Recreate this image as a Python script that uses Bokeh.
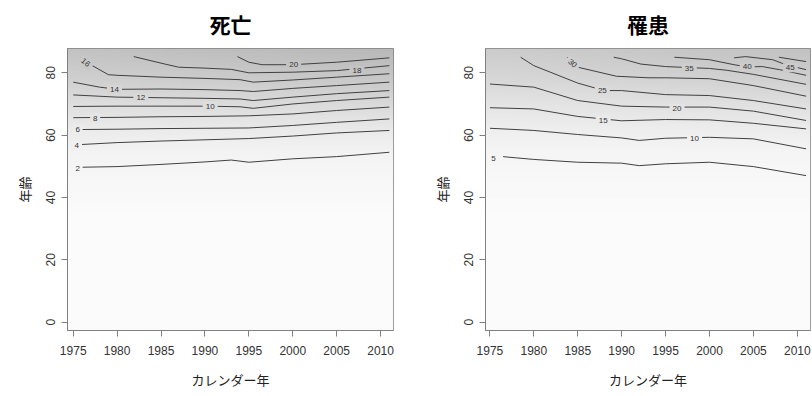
import numpy as np
from bokeh.plotting import figure
from bokeh.layouts import row
from bokeh.models import Range1d, FixedTicker, ColumnDataSource
from bokeh.core.properties import value
from bokeh.embed import file_html
from bokeh.resources import INLINE

# ---------------- data: 死亡 (death) contour lines ----------------
D_LEVELS = [2, 4, 6, 8, 10, 12, 14, 16, 18, 20]
D2_YEAR = [1976, 1980, 1985, 1990, 1993, 1995, 2000, 2005, 2011]
D2_AGE = [49.7, 49.9, 50.6, 51.4, 52.0, 51.3, 52.4, 53.1, 54.5]
D4_YEAR = [1976, 1980, 1985, 1990, 1995, 2000, 2005, 2011]
D4_AGE = [57.0, 57.6, 58.1, 58.5, 58.9, 59.7, 60.7, 61.5]
D6_YEAR = [1976, 1980, 1985, 1990, 1995, 2000, 2005, 2011]
D6_AGE = [61.8, 61.9, 62.1, 62.2, 62.3, 63.1, 64.1, 65.2]
D8_YEAR = [1975, 1980, 1985, 1990, 1995, 2000, 2005, 2011]
D8_AGE = [65.6, 65.7, 65.9, 66.0, 66.2, 66.8, 67.9, 69.0]
D10_YEAR = [1975, 1980, 1985, 1990, 1994, 1995.5, 2000, 2005, 2011]
D10_AGE = [69.2, 69.3, 69.3, 69.3, 69.1, 68.6, 70.0, 71.1, 72.2]
D12_YEAR = [1975, 1980, 1985, 1990, 1994, 1995.5, 2000, 2005, 2011]
D12_AGE = [72.9, 72.2, 72.0, 71.8, 71.6, 71.1, 72.2, 73.3, 74.3]
D14_YEAR = [1975, 1978, 1980, 1985, 1990, 1994, 1995.5, 2000, 2005, 2011]
D14_AGE = [77.0, 75.4, 74.7, 74.8, 74.6, 74.3, 74.0, 75.0, 75.9, 77.0]
D16_YEAR = [1975.8, 1977, 1979, 1980, 1985, 1990, 1994, 1995.5, 2000, 2005, 2011]
D16_AGE = [85.0, 82.6, 79.4, 79.2, 78.6, 78.2, 77.8, 77.0, 77.7, 78.6, 79.7]
D18_YEAR = [1981.9, 1985, 1987, 1990, 1993, 1995, 2000, 2005, 2011]
D18_AGE = [85.2, 83.1, 81.8, 81.5, 81.1, 80.0, 80.2, 80.7, 82.3]
D20_YEAR = [1993.7, 1995, 1996.5, 2000, 2005, 2011]
D20_AGE = [85.2, 83.4, 82.6, 82.6, 83.4, 84.8]
D_LABEL_YEAR = [1975.5, 1975.4, 1975.5, 1977.5, 1990.6, 1982.7, 1979.7, 1976.4, 2007.3, 2000.1]
D_LABEL_AGE = [49.4, 56.7, 61.7, 65.4, 69.3, 72.0, 74.7, 83.3, 80.8, 82.6]

# ---------------- data: 罹患 (incidence) contour lines ----------------
I_LEVELS = [5, 10, 15, 20, 25, 30, 35, 40, 45, 50]
I5_YEAR = [1976.5, 1978, 1980, 1985, 1990, 1992, 1995, 2000, 2005, 2011]
I5_AGE = [53.1, 52.7, 52.2, 51.3, 51.0, 50.2, 50.8, 51.3, 49.9, 47.0]
I10_YEAR = [1975, 1980, 1985, 1990, 1992, 1995, 2000, 2005, 2011]
I10_AGE = [62.2, 61.5, 60.2, 59.1, 58.3, 59.0, 59.3, 58.8, 55.6]
I15_YEAR = [1975, 1980, 1985, 1990, 1995, 2000, 2005, 2011]
I15_AGE = [68.8, 68.4, 66.0, 64.6, 65.0, 64.9, 63.8, 62.0]
I20_YEAR = [1975, 1980, 1985, 1990, 1995, 2000, 2005, 2011]
I20_AGE = [76.4, 75.4, 71.1, 69.3, 69.0, 69.0, 67.7, 64.7]
I25_YEAR = [1978.5, 1980, 1985, 1988, 1990, 1995, 2000, 2005, 2011]
I25_AGE = [85.0, 82.3, 76.7, 74.3, 74.3, 73.0, 72.7, 71.1, 68.4]
I30_YEAR = [1983.8, 1985, 1989.4, 1993, 1995, 2000, 2005, 2011]
I30_AGE = [85.0, 81.8, 78.9, 78.4, 78.4, 78.1, 75.9, 72.5]
I35_YEAR = [1989.1, 1990, 1992.2, 1995, 2000, 2002, 2005, 2011]
I35_AGE = [85.0, 84.5, 82.8, 82.0, 81.4, 80.8, 79.5, 76.3]
I40_YEAR = [1996.0, 2000, 2002.8, 2004.3, 2006, 2008, 2011]
I40_AGE = [85.0, 84.2, 82.6, 81.9, 82.0, 81.0, 79.2]
I45_YEAR = [2002.8, 2004.1, 2007.2, 2008.7, 2011]
I45_AGE = [84.8, 85.2, 84.2, 82.6, 81.0]
I50_YEAR = [2007.9, 2011]
I50_AGE = [85.0, 83.6]
I_LABEL_YEAR = [1975.4, 1998.3, 1987.9, 1996.3, 1987.8, 1984.4, 1997.7, 2004.3, 2009.2, None]
I_LABEL_AGE = [52.4, 59.0, 64.8, 68.5, 74.3, 83.0, 81.4, 81.9, 81.6, None]

X_TICKS = [1975, 1980, 1985, 1990, 1995, 2000, 2005, 2010]
Y_TICKS = [0, 20, 40, 60, 80]
TITLES = ["死亡", "罹患"]
X_LABEL = "カレンダー年"
Y_LABEL = "年齢"

D_LINES = [(D2_YEAR, D2_AGE), (D4_YEAR, D4_AGE), (D6_YEAR, D6_AGE), (D8_YEAR, D8_AGE),
           (D10_YEAR, D10_AGE), (D12_YEAR, D12_AGE), (D14_YEAR, D14_AGE),
           (D16_YEAR, D16_AGE), (D18_YEAR, D18_AGE), (D20_YEAR, D20_AGE)]
I_LINES = [(I5_YEAR, I5_AGE), (I10_YEAR, I10_AGE), (I15_YEAR, I15_AGE), (I20_YEAR, I20_AGE),
           (I25_YEAR, I25_AGE), (I30_YEAR, I30_AGE), (I35_YEAR, I35_AGE),
           (I40_YEAR, I40_AGE), (I45_YEAR, I45_AGE), (I50_YEAR, I50_AGE)]

# ---------------- style ----------------
AGE_STOPS = [-5, 35, 45, 55, 62, 70, 78, 90]
D_GRAY = [252, 251, 248, 243, 236, 223, 208, 192]
I_GRAY = [252, 251, 249, 245, 239, 229, 216, 202]
LINE_COLOR = "#404040"
FRAME_COLOR = "#808080"
CJK = "Noto Sans CJK JP"
LATIN = "Liberation Sans"
W, H = 406, 396
TOP, BOTTOM = 48, 66


def gray_at(age, year, stops, x0, x1):
    g = np.interp(age, AGE_STOPS, stops)
    shade = np.clip((age - 55) / 30.0, 0, 1) * ((year - x0) / (x1 - x0)) * 10
    return np.clip(g - shade, 0, 255)


def make_panel(title, levels, lines, lab_x, lab_y, stops, xr, border_left, border_right, rot):
    p = figure(width=W, height=H, output_backend="svg", toolbar_location=None,
               x_range=Range1d(*xr), y_range=Range1d(-2.7, 87.8),
               min_border_left=border_left, min_border_right=border_right,
               min_border_top=TOP, min_border_bottom=BOTTOM)
    p.grid.visible = False
    p.outline_line_color = FRAME_COLOR
    p.outline_line_width = 1
    p.background_fill_color = "white"
    p.border_fill_color = "white"

    # background gradient image
    ny, nx = 180, 60
    ages = np.linspace(-2.7, 87.8, ny)
    years = np.linspace(xr[0], xr[1], nx)
    A, Y = np.meshgrid(ages, years, indexing="ij")
    g = gray_at(A, Y, stops, xr[0], xr[1]).astype(np.uint32)
    img = (255 << 24) | (g << 16) | (g << 8) | g
    p.image_rgba(image=[img.astype(np.uint32)], x=xr[0], y=-2.7,
                 dw=xr[1] - xr[0], dh=87.8 + 2.7)

    xs = [list(l[0]) for l in lines]
    ys = [list(l[1]) for l in lines]
    p.multi_line(xs=xs, ys=ys, line_color=LINE_COLOR, line_width=1)

    tx, ty, tt, bg, ang, wd = [], [], [], [], [], []
    for lev, x, y in zip(levels, lab_x, lab_y):
        if x is None:
            continue
        tx.append(x)
        ty.append(y)
        tt.append(str(lev))
        gv = int(gray_at(y, x, stops, xr[0], xr[1]))
        bg.append("#%02x%02x%02x" % (gv, gv, gv))
        ang.append(rot.get(lev, 0.0))
        wd.append(5 * len(str(lev)) + 5)
    src = ColumnDataSource(dict(x=tx, y=ty, text=tt, bg=bg, angle=ang, w=wd))
    p.rect(x="x", y="y", width="w", height=9, width_units="screen", height_units="screen",
           angle="angle", fill_color="bg", line_color=None, source=src)
    p.text(x="x", y="y", text="text", angle="angle", source=src,
           text_align="center", text_baseline="middle",
           text_font=value(LATIN), text_font_size="8px", text_color="#333333")

    p.title.text = title
    p.title.align = "center"
    p.title.vertical_align = "top"
    p.title.text_font = CJK
    p.title.text_font_size = "21px"
    p.title.text_font_style = "bold"
    p.title.text_color = "black"
    p.title.standoff = 16

    for ax in (p.xaxis, p.yaxis):
        ax.axis_line_color = FRAME_COLOR
        ax.major_tick_line_color = FRAME_COLOR
        ax.minor_tick_line_color = None
        ax.major_tick_in = 0
        ax.major_tick_out = 6
        ax.major_label_text_font = LATIN
        ax.major_label_text_font_size = "12px"
        ax.major_label_text_color = "#333333"
        ax.axis_label_text_font = CJK
        ax.axis_label_text_font_style = "normal"
        ax.axis_label_text_font_size = "13px"
        ax.axis_label_text_color = "#222222"
    p.xaxis.ticker = FixedTicker(ticks=X_TICKS)
    p.yaxis.ticker = FixedTicker(ticks=Y_TICKS)
    p.xaxis.axis_label = X_LABEL
    p.yaxis.axis_label = Y_LABEL
    p.xaxis.major_label_standoff = 9
    p.xaxis.axis_label_standoff = 12
    p.yaxis.major_label_orientation = "vertical"
    p.yaxis.major_label_standoff = 6
    p.yaxis.axis_label_standoff = 10
    return p


p1 = make_panel(TITLES[0], D_LEVELS, D_LINES, D_LABEL_YEAR, D_LABEL_AGE, D_GRAY,
                (1974.35, 2011.47), 67, 13, {16: -0.7})
p2 = make_panel(TITLES[1], I_LEVELS, I_LINES, I_LABEL_YEAR, I_LABEL_AGE, I_GRAY,
                (1974.5, 2011.5), 79, 2, {30: -0.7})

layout = row(p1, p2)
open("out.html", "w").write(file_html(layout, INLINE))
